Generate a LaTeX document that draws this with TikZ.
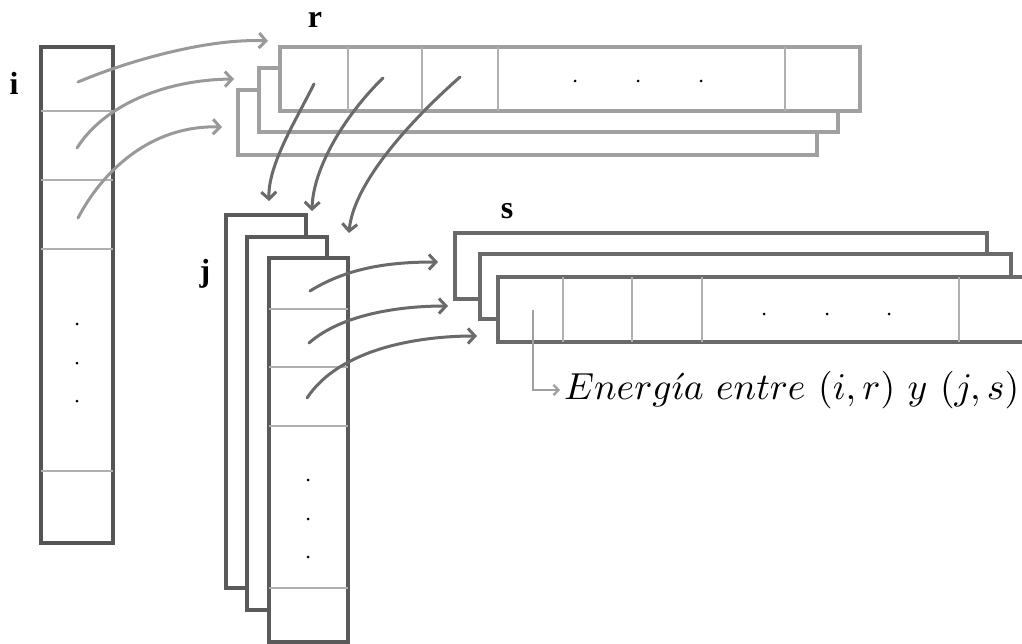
\documentclass[tikz,border=0pt]{standalone}
\usepackage{fontspec}
\newfontfamily\labfont{Liberation Serif}
\usetikzlibrary{arrows.meta}
\definecolor{idark}{HTML}{555555}
\definecolor{rgrey}{HTML}{A0A0A0}
\definecolor{jdark}{HTML}{5A5A5A}
\definecolor{sdark}{HTML}{6A6A6A}
\definecolor{divc}{HTML}{B0B0B0}
\definecolor{arrlight}{HTML}{999999}
\definecolor{arrdark}{HTML}{6A6A6A}
\definecolor{ptrc}{HTML}{A0A0A0}
\begin{document}
\begin{tikzpicture}[x=1pt,y=-1pt,
  arr/.style={draw, fill=white, line width=3.2pt, inner sep=0pt, outer sep=0pt, anchor=north west},
  divl/.style={draw=divc, line width=1.5pt},
  dotm/.style={fill=black},
  lab/.style={font=\labfont\bfseries\fontsize{32}{34}\selectfont, inner sep=0pt},
  conL/.style={draw=arrlight, line width=3pt, line cap=round, -{Straight Barb[length=7pt,width=15pt]}},
  conD/.style={draw=arrdark, line width=3pt, line cap=round, -{Straight Barb[length=7pt,width=15pt]}},
  ptr/.style={draw=ptrc, line width=2.2pt, -{Straight Barb[length=5pt,width=10pt]}}
]
\fill[white] (0,0) rectangle (1022,644);
\useasboundingbox (0,0) rectangle (1022,644);

% ---- i column
\node[arr, draw=idark, minimum width=72pt, minimum height=496pt] (icol) at (41,47) {};
\foreach \yy in {111,180,249,471} \draw[divl] (41,\yy) -- (113,\yy);
\foreach \yy in {324,363,401} \fill[dotm] (77,\yy) circle (1.5);
\node[lab] (ilab) at (14,83) {i};

% ---- r arrays
\node[arr, draw=rgrey, minimum width=579pt, minimum height=65pt] (r3) at (238,90) {};
\node[arr, draw=rgrey, minimum width=579pt, minimum height=64pt] (r2) at (259,68) {};
\node[arr, draw=rgrey, minimum width=580pt, minimum height=64pt] (r1) at (280,47) {};
\foreach \xx in {348,422,498,785} \draw[divl] (\xx,47) -- (\xx,111);
\foreach \xx in {575,638,701} \fill[dotm] (\xx,81) circle (1.5);
\node[lab] (rlab) at (315,20) {r};

% ---- j arrays
\node[arr, draw=jdark, minimum width=80pt, minimum height=373pt] (j3) at (226,215) {};
\node[arr, draw=jdark, minimum width=80pt, minimum height=373pt] (j2) at (247,237) {};
\node[arr, draw=jdark, minimum width=79pt, minimum height=384pt] (j1) at (269,258) {};
\foreach \yy in {309,367,426,588} \draw[divl] (269,\yy) -- (348,\yy);
\foreach \yy in {480,519,557} \fill[dotm] (308,\yy) circle (1.5);
\node[lab] (jlab) at (205,274) {j};

% ---- s arrays
\node[arr, draw=sdark, minimum width=532pt, minimum height=66pt] (s3) at (455,233) {};
\node[arr, draw=sdark, minimum width=531pt, minimum height=65pt] (s2) at (480,254) {};
\node[arr, draw=sdark, minimum width=540pt, minimum height=65pt] (s1) at (498,277) {};
\foreach \xx in {563,632,702,959} \draw[divl] (\xx,277) -- (\xx,342);
\foreach \xx in {764,827,889} \fill[dotm] (\xx,314) circle (1.5);
\node[lab] (slab) at (507,211) {s};

% ---- connector end points
\coordinate (ia) at (78,82);  \coordinate (ra) at (268,41);
\coordinate (ib) at (77,148); \coordinate (rb) at (234,79);
\coordinate (ic) at (78,218); \coordinate (rc) at (222,127);
\coordinate (rja) at (314,84);  \coordinate (ja) at (269,201);
\coordinate (rjb) at (383,78);  \coordinate (jb) at (312,211);
\coordinate (rjc) at (460,77);  \coordinate (jc) at (349,233);
\coordinate (jsa) at (310,291); \coordinate (sa) at (438,262);
\coordinate (jsb) at (309,343); \coordinate (sb) at (448,306);
\coordinate (jsc) at (307,398); \coordinate (sc) at (477,336);
\coordinate (eS) at (533,310);

% ---- i -> r
\draw[conL] (ia) .. controls (130,60) and (210,38) .. (ra);
\draw[conL] (ib) .. controls (102,108) and (160,80) .. (rb);
\draw[conL] (ic) .. controls (102,172) and (150,125) .. (rc);

% ---- r -> j
\draw[conD] (rja) .. controls (295,122) and (268,165) .. (ja);
\draw[conD] (rjb) .. controls (345,115) and (313,168) .. (jb);
\draw[conD] (rjc) .. controls (400,130) and (353,188) .. (jc);

% ---- j -> s
\draw[conD] (jsa) .. controls (350,266) and (395,262) .. (sa);
\draw[conD] (jsb) .. controls (342,314) and (400,306) .. (sb);
\draw[conD] (jsc) .. controls (340,348) and (420,336) .. (sc);

% ---- energy label
\node[anchor=west, inner sep=0pt] (etext) at (564,390)
  {\resizebox{455pt}{!}{$Energ\acute{\imath}a\ entre\ (i,r)\ y\ (j,s)$}};
\draw[ptr, shorten >=4pt] (eS) |- (etext.west);
\end{tikzpicture}
\end{document}
